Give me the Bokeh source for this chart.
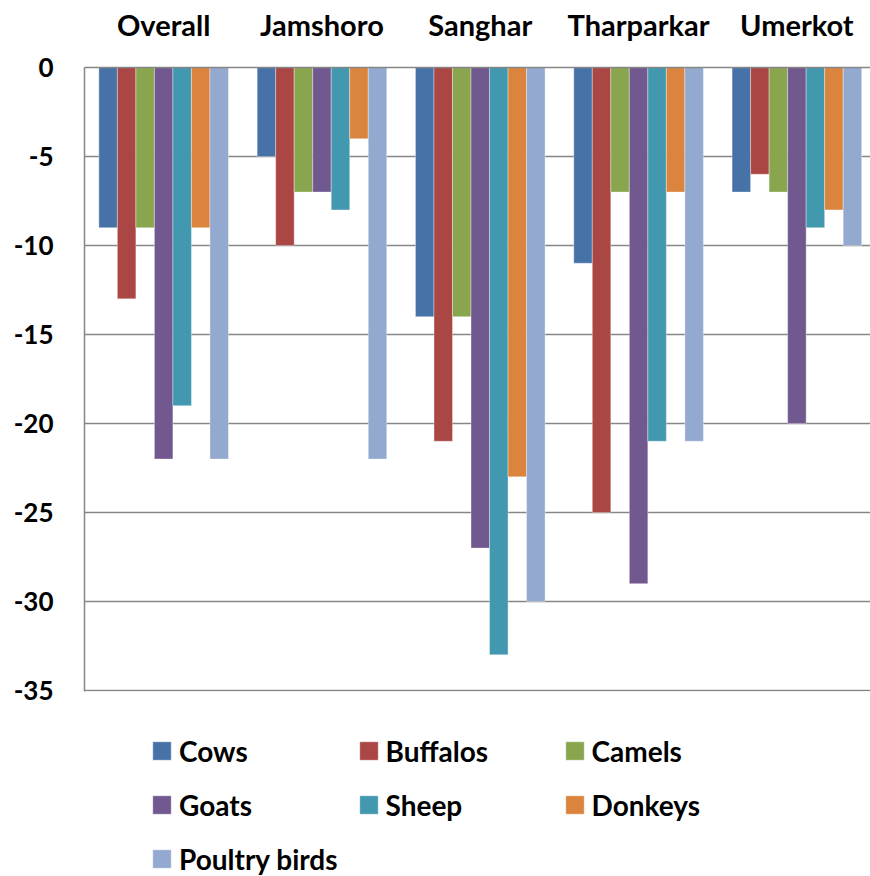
from bokeh.plotting import figure
from bokeh.models import (ColumnDataSource, Range1d, FixedTicker, LinearAxis,
                          Legend, LegendItem)
from bokeh.layouts import column
from bokeh.transform import dodge
from bokeh.embed import file_html
from bokeh.resources import INLINE

# ---- data ----
districts = ["Overall", "Jamshoro", "Sanghar", "Tharparkar", "Umerkot"]
cows = [-9, -5, -14, -11, -7]
buffalos = [-13, -10, -21, -25, -6]
camels = [-9, -7, -14, -7, -7]
goats = [-22, -7, -27, -29, -20]
sheep = [-19, -8, -33, -21, -9]
donkeys = [-9, -4, -23, -7, -8]
poultry = [-22, -22, -30, -21, -10]
series_names = ["Cows", "Buffalos", "Camels", "Goats", "Sheep", "Donkeys", "Poultry birds"]
series_values = [cows, buffalos, camels, goats, sheep, donkeys, poultry]
colors = ["#4672A8", "#AA4644", "#89A54E", "#71588F", "#4198AF", "#DB843D", "#93A9CF"]
y_ticks = [0, -5, -10, -15, -20, -25, -30, -35]
y_tick_labels = ["0", "-5", "-10", "-15", "-20", "-25", "-30", "-35"]

FONT = "Lato"
GRID = "#868686"

src = {"x": [i + 0.5 for i in range(len(districts))]}
for name, vals in zip(series_names, series_values):
    src[name] = vals
source = ColumnDataSource(src)

# ---- main chart ----
p = figure(frame_width=786, frame_height=624, output_backend="svg", toolbar_location=None,
           x_range=Range1d(0, 4.965), y_range=Range1d(y_ticks[-1] - 0.06, 0),
           x_axis_location=None, y_axis_location=None,
           min_border_left=84, min_border_top=67, min_border_right=0,
           min_border_bottom=14)
p.outline_line_color = None
p.background_fill_color = "white"
p.border_fill_color = "white"

bw = 1.0 / 8.55
for k, (name, col) in enumerate(zip(series_names, colors)):
    p.vbar(x=dodge("x", (k - 3) * bw, range=p.x_range), top=name, bottom=0,
           width=bw, source=source, fill_color=col,
           line_color="white", line_width=0.6, line_alpha=0.6)

yax = LinearAxis(ticker=FixedTicker(ticks=y_ticks),
                 major_label_overrides={t: s for t, s in zip(y_ticks, y_tick_labels)})
yax.axis_line_color = GRID
yax.axis_line_width = 1.5
yax.major_tick_line_color = None
yax.minor_tick_line_color = None
yax.major_label_standoff = 25
yax.major_label_text_font = FONT
yax.major_label_text_font_size = "26px"
yax.major_label_text_font_style = "bold"
yax.major_label_text_color = "black"
p.add_layout(yax, "left")

xax = LinearAxis(ticker=FixedTicker(ticks=src["x"]),
                 major_label_overrides={x: d for x, d in zip(src["x"], districts)})
xax.axis_line_color = GRID
xax.axis_line_width = 1.5
xax.major_tick_line_color = None
xax.minor_tick_line_color = None
xax.major_label_standoff = 20
xax.major_label_text_font = FONT
xax.major_label_text_font_size = "29px"
xax.major_label_text_font_style = "bold"
xax.major_label_text_color = "black"
p.add_layout(xax, "above")

p.xgrid.grid_line_color = None
p.ygrid.ticker = FixedTicker(ticks=y_ticks)
p.ygrid.grid_line_color = GRID
p.ygrid.grid_line_width = 1.5

# ---- legend strip below the chart ----
lf = figure(frame_width=870, frame_height=171, output_backend="svg", toolbar_location=None,
            x_range=Range1d(0, 1), y_range=Range1d(0, 1),
            x_axis_location=None, y_axis_location=None,
            min_border_left=0, min_border_right=0, min_border_top=0, min_border_bottom=0)
lf.outline_line_color = None
lf.xgrid.visible = False
lf.ygrid.visible = False
lf.border_fill_color = "white"
lf.background_fill_color = "white"
# swatch renderers share the data; their (negative) bars fall outside this strip's range
swatches = [lf.vbar(x="x", top=n, bottom=0, width=0.01, source=source,
                    fill_color=c, line_color="white", line_width=0.6, line_alpha=0.6)
            for n, c in zip(series_names, colors)]

legend = Legend(items=[LegendItem(label=n, renderers=[r]) for n, r in zip(series_names, swatches)],
                orientation="horizontal", ncols=3,
                location=(150, 0), margin=0, padding=0,
                glyph_width=23, glyph_height=23, label_width=158,
                label_height=35, spacing=19, label_standoff=6,
                label_text_font=FONT, label_text_font_size="28px",
                label_text_font_style="bold", label_text_color="black",
                border_line_color=None, background_fill_alpha=0)
lf.add_layout(legend, "center")

layout = column(p, lf, spacing=0)
open("out.html", "w").write(file_html(layout, INLINE))
